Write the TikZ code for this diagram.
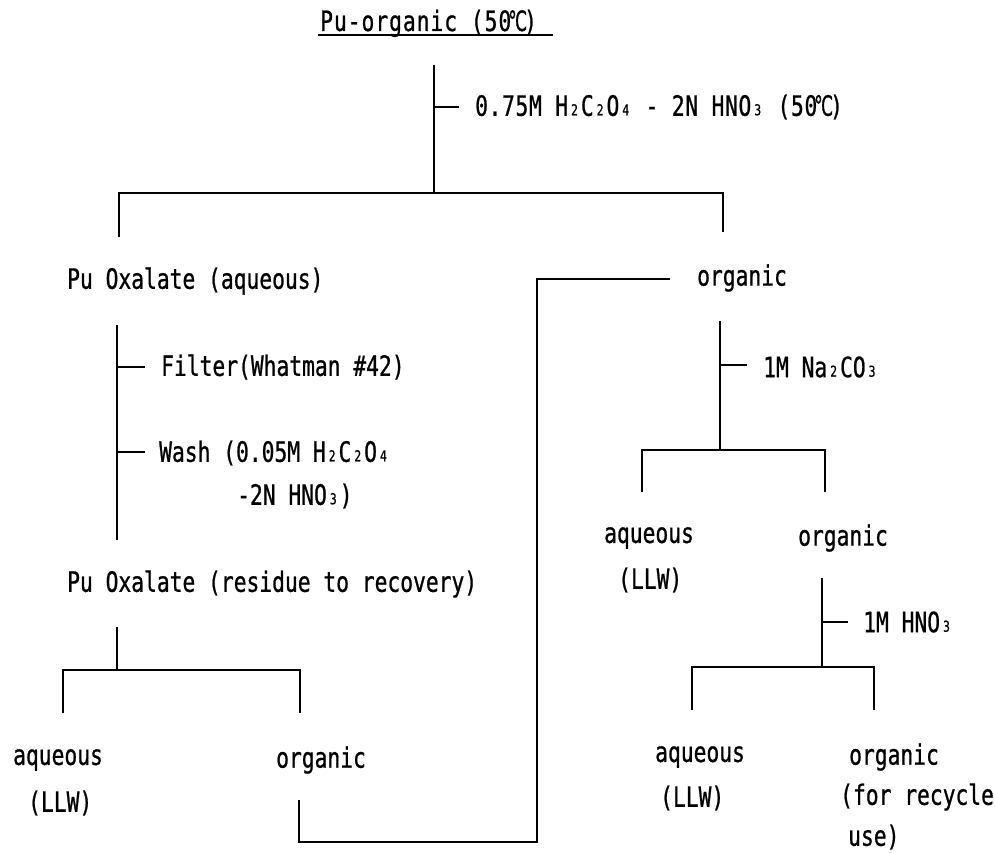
\documentclass[tikz,border=0pt]{standalone}
\usepackage{fontspec}
\usepackage{graphicx}
\setmonofont[FakeStretch=0.76,FakeBold=0.8]{DejaVu Sans Mono}
\newfontfamily\symf[FakeStretch=0.6,FakeBold=0.8]{DejaVu Sans}
\newcommand\sbs[1]{\hbox to \fontcharwd\font`0{\hss\raisebox{0.5pt}{\fontsize{15}{15}\selectfont #1}\hss}}
\newcommand\degC{\hbox to \fontcharwd\font`0{\hss{\symf ℃}\hss}}
\begin{document}
\begin{tikzpicture}[x=1pt,y=-1pt,
  lbl/.style={anchor=west,inner sep=0pt,font=\ttfamily\fontsize{28}{34}\selectfont},
  wide/.style={font=\ttfamily\fontsize{28}{34}\selectfont\addfontfeature{LetterSpace=2.3}},
  wider/.style={font=\ttfamily\fontsize{28}{34}\selectfont\addfontfeature{LetterSpace=3.5}},
  ln/.style={line width=1.6pt}]
\useasboundingbox (0,0) rectangle (995,853);
% texts
\node[lbl,wider,anchor=base west] (title) at (320,31) {Pu-organic (50\degC)};
\node[lbl,wide] (reag1) at (475,107) {0.75M H\sbs2C\sbs2O\sbs4 - 2N HNO\sbs3 (50\degC)};
\node[lbl] (puox) at (67,281) {Pu Oxalate (aqueous)};
\node[lbl] (org1) at (697,278) {organic};
\node[lbl] (filt) at (161,367) {Filter(Whatman \#42)};
\node[lbl] (wash) at (159,453) {Wash (0.05M H\sbs2C\sbs2O\sbs4};
\node[lbl] (wash2) at (237,496) {-2N HNO\sbs3)};
\node[lbl] (res) at (67,584) {Pu Oxalate (residue to recovery)};
\node[lbl] (aq1) at (13,760) {aqueous};
\node[lbl] (llw1) at (28,803) {(LLW)};
\node[lbl] (org2) at (276,760) {organic};
\node[lbl] (reag2) at (763,367) {1M Na\sbs2CO\sbs3};
\node[lbl] (aq2) at (604,538) {aqueous};
\node[lbl] (llw2) at (618,580) {(LLW)};
\node[lbl] (org3) at (798,538) {organic};
\node[lbl] (reag3) at (863,622) {1M HNO\sbs3};
\node[lbl] (aq3) at (655,757) {aqueous};
\node[lbl] (llw3) at (660,798) {(LLW)};
\node[lbl] (org4) at (849,757) {organic};
\node[lbl] (rec) at (840,797) {(for recycle};
\node[lbl] (use) at (848,837) {use)};
% coordinates
\coordinate (ulA) at (318,35); \coordinate (ulB) at (553,35);
\coordinate (m1) at (434,65); \coordinate (m2) at (434,193); \coordinate (mt) at (434,107); \coordinate (mte) at (459,107);
\coordinate (s1l) at (119,237); \coordinate (s1lt) at (119,193); \coordinate (s1rt) at (723,193); \coordinate (s1r) at (723,232);
\coordinate (p1) at (117,325); \coordinate (p2) at (117,540);
\coordinate (f1) at (117,367); \coordinate (f2) at (145,367);
\coordinate (w1) at (117,452); \coordinate (w2) at (145,452);
\coordinate (r1) at (117,627); \coordinate (r2) at (117,670);
\coordinate (s2l) at (63,713); \coordinate (s2lt) at (63,670); \coordinate (s2rt) at (300,670); \coordinate (s2r) at (300,713);
\coordinate (c1) at (670,279); \coordinate (c2) at (537,279); \coordinate (c3) at (537,842); \coordinate (c4) at (299,842); \coordinate (c5) at (299,800);
\coordinate (o1) at (720,321); \coordinate (o2) at (720,450); \coordinate (ot1) at (720,365); \coordinate (ot2) at (747,365);
\coordinate (s3l) at (642,492); \coordinate (s3lt) at (642,450); \coordinate (s3rt) at (825,450); \coordinate (s3r) at (825,492);
\coordinate (q1) at (822,578); \coordinate (q2) at (822,667); \coordinate (qt1) at (822,622); \coordinate (qt2) at (848,622);
\coordinate (s4l) at (692,710); \coordinate (s4lt) at (692,667); \coordinate (s4rt) at (874,667); \coordinate (s4r) at (874,710);
% lines
\draw[line width=1.2pt] (ulA) -- (ulB);
\draw[ln] (m1) -- (m2);
\draw[ln] (mt) -- (mte);
\draw[ln] (s1l) -- (s1lt) -- (s1rt) -- (s1r);
\draw[ln] (p1) -- (p2);
\draw[ln] (f1) -- (f2);
\draw[ln] (w1) -- (w2);
\draw[ln] (r1) -- (r2);
\draw[ln] (s2l) -- (s2lt) -- (s2rt) -- (s2r);
\draw[ln] (c1) -- (c2) -- (c3) -- (c4) -- (c5);
\draw[ln] (o1) -- (o2);
\draw[ln] (ot1) -- (ot2);
\draw[ln] (s3l) -- (s3lt) -- (s3rt) -- (s3r);
\draw[ln] (q1) -- (q2);
\draw[ln] (qt1) -- (qt2);
\draw[ln] (s4l) -- (s4lt) -- (s4rt) -- (s4r);
\end{tikzpicture}
\end{document}
